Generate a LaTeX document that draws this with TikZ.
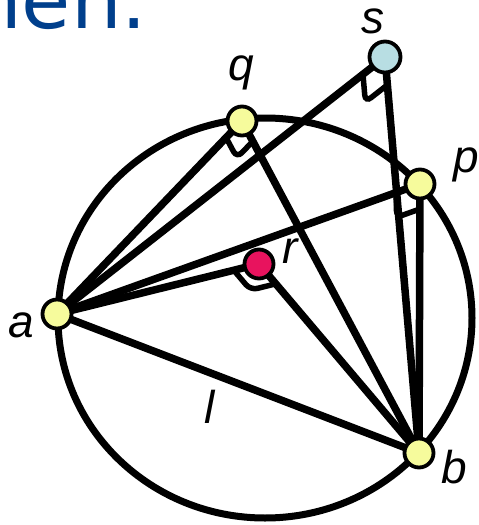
\documentclass[tikz,border=0pt]{standalone}
\usepackage{fontspec}
\setmainfont{Liberation Sans}
\newfontfamily\headfont{DejaVu Sans}
\usetikzlibrary{calc}
\pgfdeclarelayer{bg}
\pgfsetlayers{bg,main}
\definecolor{headblue}{HTML}{003F8C}
\definecolor{dotyellow}{HTML}{F6FB9C}
\definecolor{dotblue}{HTML}{B8DEE3}
\definecolor{dotred}{HTML}{E8135E}
\tikzset{
  dot/.style={circle, draw=black, line width=3.8pt, minimum size=29pt, inner sep=0pt, fill=dotyellow},
  conn/.style={line width=7.5pt, line cap=round},
  anglemark/.style={line width=5.5pt, rounded corners=7pt},
  lab/.style={font=\fontsize{46}{50}\selectfont\itshape, anchor=base, inner sep=0pt},
}
\begin{document}
\begin{tikzpicture}[x=1pt,y=-1pt]
\useasboundingbox (0,0) rectangle (479,525);
\clip (0,0) rectangle (479,525);
\node[anchor=base west, inner sep=0pt, text=headblue, font=\headfont\fontsize{80}{90}\selectfont] (head) at (-29,28) {hen.};
% points
\node[dot] (a) at (57,314) {};
\node[dot] (q) at (242,121) {};
\node[dot, fill=dotblue, minimum size=31pt] (s) at (385,57) {};
\node[dot] (p) at (420,184) {};
\node[dot, fill=dotred] (r) at (259,264) {};
\node[dot] (b) at (419,453) {};
\begin{pgfonlayer}{bg}
\draw[line width=7pt] (265,318) ellipse [x radius=207, y radius=200];
\draw[conn] (a.center) -- (q.center);
\draw[conn] (a.center) -- (s.center);
\draw[conn] (a.center) -- (p.center);
\draw[conn] (a.center) -- (r.center);
\draw[conn] (a.center) -- (b.center);
\draw[conn] (q.center) -- (b.center);
\draw[conn] (r.center) -- (b.center);
\draw[conn] (s.center) -- (b.center);
\draw[conn] (p.center) -- (b.center);
\foreach \v/\d in {q/23, s/28, p/25, r/26} {
  \coordinate (\v1) at ($(\v)!\d pt!(a)$);
  \coordinate (\v2) at ($(\v)!\d pt!(b)$);
  \coordinate (\v3) at ($(\v1)+(\v2)-(\v)$);
  \draw[anglemark] (\v1) -- (\v3) -- (\v2);
}
\end{pgfonlayer}
% labels
\node[lab] (la) at (21,337) {a};
\node[lab] (lq) at (241,80) {q};
\node[lab] (ls) at (373,33) {s};
\node[lab] (lp) at (466,172) {p};
\node[lab] (lr) at (290,263) {r};
\node[lab] (lb) at (454,483) {b};
\node[lab] (ll) at (210,423) {l};
\end{tikzpicture}
\end{document}
